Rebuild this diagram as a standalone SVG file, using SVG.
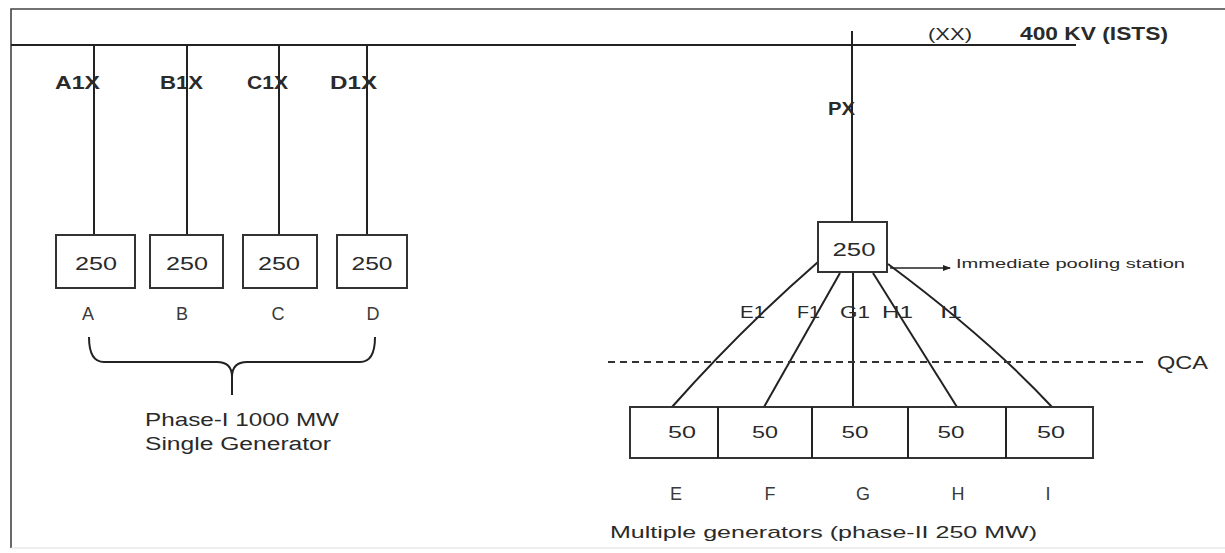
<svg xmlns="http://www.w3.org/2000/svg" width="1225" height="553" viewBox="0 0 1225 553">
<style>
text{font-family:"Liberation Sans",Arial,sans-serif;fill:#2a2a2a}
.b{font-weight:bold}
.ln{stroke:#222;stroke-width:2;fill:none}
.box{stroke:#333;stroke-width:2;fill:#fff}
.fr{stroke:#444;stroke-width:1.6;fill:none}
.c{text-anchor:middle}
.lt{font-size:18px;fill:#3a3a3a}
</style>
<defs>
<marker id="ah" markerWidth="8" markerHeight="8" refX="7" refY="4" orient="auto" markerUnits="userSpaceOnUse">
<path d="M0,1 L8,4 L0,7 Z" fill="#222"/>
</marker>
</defs>
<rect width="1225" height="553" fill="#fff"/>
<g id="frame">
<path class="fr" d="M1225,9 L11,9 L11,548"/>
<path d="M11,548 L1225,548" stroke="#ddd" stroke-width="1.2"/>
</g>
<g id="bus">
<line class="ln" x1="11" y1="45" x2="1076" y2="45"/>
<text x="928" y="40" font-size="17" textLength="44" lengthAdjust="spacingAndGlyphs">(XX)</text>
<text class="b" x="1020" y="40" font-size="18" textLength="148" lengthAdjust="spacingAndGlyphs">400 KV (ISTS)</text>
</g>
<g id="connectors">
<line class="ln" x1="94" y1="45" x2="94" y2="235"/>
<line class="ln" x1="187" y1="45" x2="187" y2="235"/>
<line class="ln" x1="279" y1="45" x2="279" y2="235"/>
<line class="ln" x1="367" y1="45" x2="367" y2="235"/>
<line class="ln" x1="852" y1="31" x2="852" y2="222"/>
<path class="ln" d="M818,262 Q740,330 672,407"/>
<path class="ln" d="M840,273 L764,407"/>
<line class="ln" x1="853" y1="272" x2="853" y2="407"/>
<path class="ln" d="M873,273 L957,407"/>
<path class="ln" d="M888,264 Q990,340 1052,407"/>
<line x1="890" y1="268" x2="950" y2="268" stroke="#222" stroke-width="1.6" marker-end="url(#ah)"/>
<line x1="608" y1="362" x2="1145" y2="362" stroke="#333" stroke-width="1.8" stroke-dasharray="7,5"/>
<path class="ln" d="M89,337 Q89,362 104,362 L217,362 Q232,362 232,377 L232,395 M232,377 Q232,362 247,362 L360,362 Q375,362 375,337" stroke-width="1.8"/>
</g>
<g id="labels-feeders">
<text class="b" x="55" y="89" font-size="19" textLength="45" lengthAdjust="spacingAndGlyphs">A1X</text>
<text class="b" x="160" y="89" font-size="19" textLength="43" lengthAdjust="spacingAndGlyphs">B1X</text>
<text class="b" x="247" y="89" font-size="19" textLength="41" lengthAdjust="spacingAndGlyphs">C1X</text>
<text class="b" x="330" y="89" font-size="19" textLength="47" lengthAdjust="spacingAndGlyphs">D1X</text>
<text class="b" x="828" y="115" font-size="18" textLength="27" lengthAdjust="spacingAndGlyphs">PX</text>
</g>
<g id="gen-A">
<rect class="box" x="56" y="235" width="79" height="53"/>
<text class="c" x="96" y="270" font-size="18" textLength="42" lengthAdjust="spacingAndGlyphs">250</text>
<text class="c lt" x="88" y="320">A</text>
</g>
<g id="gen-B">
<rect class="box" x="150" y="235" width="73" height="53"/>
<text class="c" x="187" y="270" font-size="18" textLength="42" lengthAdjust="spacingAndGlyphs">250</text>
<text class="c lt" x="182" y="320">B</text>
</g>
<g id="gen-C">
<rect class="box" x="243" y="235" width="74" height="53"/>
<text class="c" x="279" y="270" font-size="18" textLength="42" lengthAdjust="spacingAndGlyphs">250</text>
<text class="c lt" x="278" y="320">C</text>
</g>
<g id="gen-D">
<rect class="box" x="337" y="235" width="70" height="53"/>
<text class="c" x="372" y="270" font-size="18" textLength="41" lengthAdjust="spacingAndGlyphs">250</text>
<text class="c lt" x="373" y="320">D</text>
</g>
<g id="phase1-label">
<text x="145" y="426" font-size="19" textLength="194" lengthAdjust="spacingAndGlyphs">Phase-I 1000 MW</text>
<text x="145" y="450" font-size="18" textLength="186" lengthAdjust="spacingAndGlyphs">Single Generator</text>
</g>
<g id="pooling-station">
<rect class="box" x="818" y="222" width="69" height="50"/>
<text class="c" x="854" y="256" font-size="18" textLength="43" lengthAdjust="spacingAndGlyphs">250</text>
<text x="956" y="268" font-size="13" textLength="229" lengthAdjust="spacingAndGlyphs">Immediate pooling station</text>
</g>
<g id="line-labels">
<text x="740" y="318" font-size="16" fill="#444" textLength="25" lengthAdjust="spacingAndGlyphs">E1</text>
<text x="797" y="318" font-size="16" fill="#444" textLength="23" lengthAdjust="spacingAndGlyphs">F1</text>
<text x="840" y="318" font-size="16" fill="#444" textLength="30" lengthAdjust="spacingAndGlyphs">G1</text>
<text x="882" y="318" font-size="16" fill="#444" textLength="31" lengthAdjust="spacingAndGlyphs">H1</text>
<text x="940" y="318" font-size="16" fill="#444" textLength="22" lengthAdjust="spacingAndGlyphs">I1</text>
<text x="1157" y="369" font-size="19" textLength="51" lengthAdjust="spacingAndGlyphs">QCA</text>
</g>
<g id="gen-row">
<rect class="box" x="630" y="407" width="463" height="51"/>
<line class="ln" x1="718" y1="407" x2="718" y2="458"/>
<line class="ln" x1="812" y1="407" x2="812" y2="458"/>
<line class="ln" x1="908" y1="407" x2="908" y2="458"/>
<line class="ln" x1="1006" y1="407" x2="1006" y2="458"/>
</g>
<g id="gen-E"><text class="c" x="682" y="438" font-size="17" textLength="28" lengthAdjust="spacingAndGlyphs">50</text><text class="c lt" x="676" y="500">E</text></g>
<g id="gen-F"><text class="c" x="765" y="438" font-size="17" textLength="26" lengthAdjust="spacingAndGlyphs">50</text><text class="c lt" x="770" y="500">F</text></g>
<g id="gen-G"><text class="c" x="855" y="438" font-size="17" textLength="27" lengthAdjust="spacingAndGlyphs">50</text><text class="c lt" x="863" y="500">G</text></g>
<g id="gen-H"><text class="c" x="951" y="438" font-size="17" textLength="27" lengthAdjust="spacingAndGlyphs">50</text><text class="c lt" x="958" y="500">H</text></g>
<g id="gen-I"><text class="c" x="1051" y="438" font-size="17" textLength="28" lengthAdjust="spacingAndGlyphs">50</text><text class="c lt" x="1048" y="500">I</text></g>
<g id="phase2-label">
<text x="610" y="538" font-size="17" textLength="427" lengthAdjust="spacingAndGlyphs">Multiple generators (phase-II 250 MW)</text>
</g>
</svg>
